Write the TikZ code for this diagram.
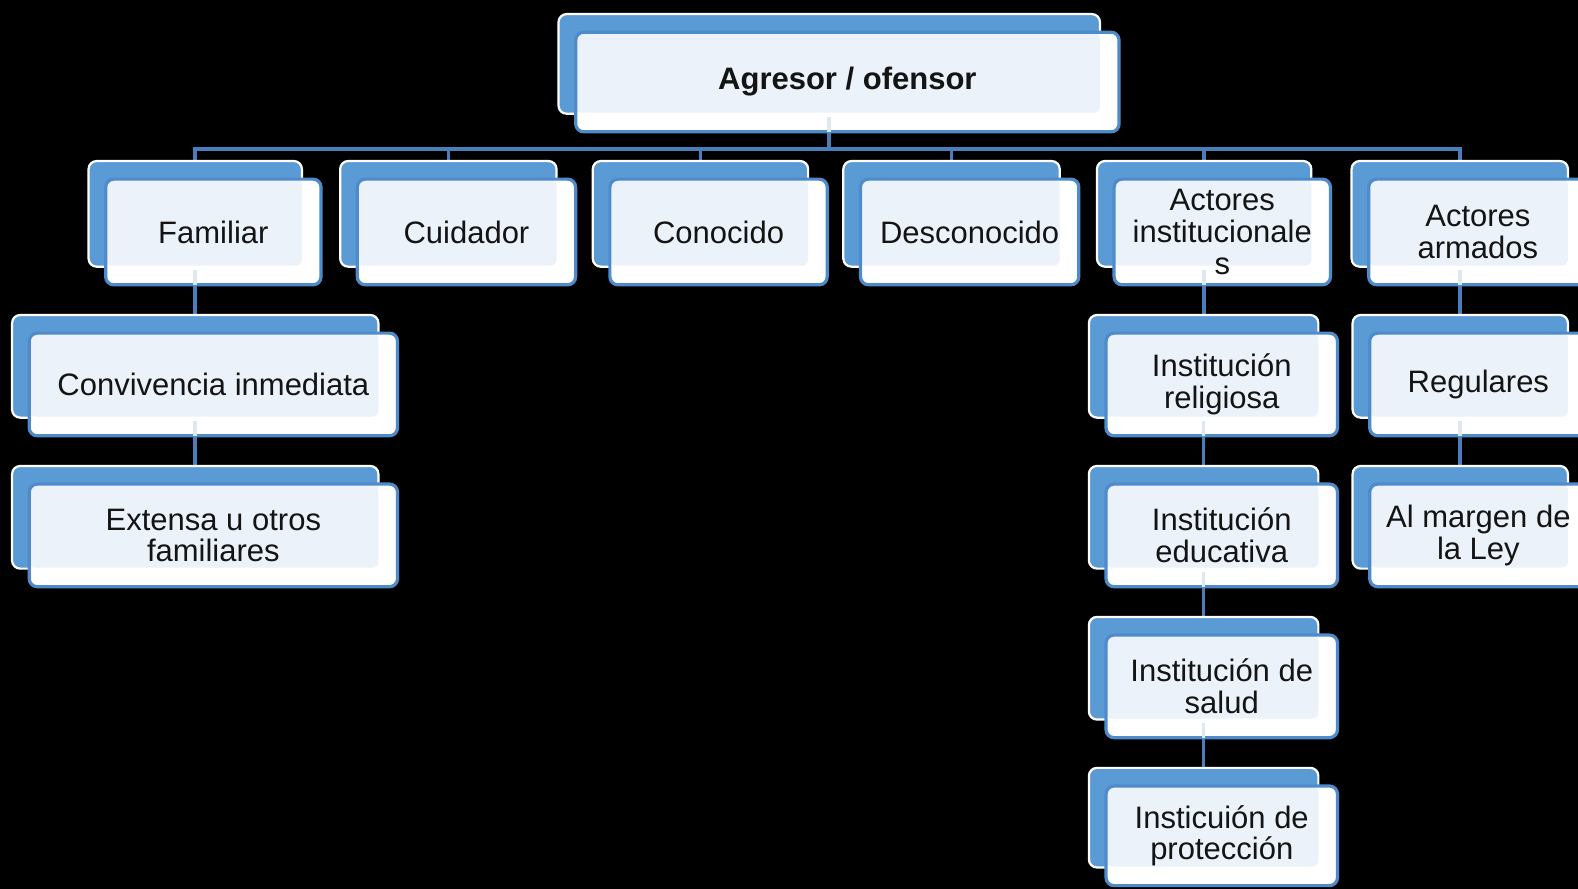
\documentclass[tikz,border=0pt]{standalone}
\usepackage{fontspec}
\setmainfont{Liberation Sans}
\definecolor{bgblue}{HTML}{5B9BD5}
\definecolor{edgeblue}{HTML}{4F8BCB}
\definecolor{lineblue}{HTML}{4A7EBB}
\definecolor{ovl}{HTML}{EBF2FA}
\pgfdeclarelayer{bg}
\pgfsetlayers{bg,main}
\tikzset{
 backbox/.style={draw=white, line width=2.2pt, fill=bgblue, rounded corners=8pt, inner sep=0pt, outer sep=0pt},
 frontbox/.style={draw=edgeblue, line width=3.2pt, fill=white, rounded corners=8pt, inner sep=0pt, outer sep=0pt,
   align=center, text=black!92, font=\fontsize{30.8}{31.5}\selectfont,
   path picture={\fill[ovl,rounded corners=6pt] (path picture bounding box.north west) rectangle ([xshift=-19pt,yshift=19pt]path picture bounding box.south east);}},
 conn/.style={draw=lineblue, line width=3.6pt},
 faint/.style={draw=lineblue!18, line width=3.6pt}
}
\newcommand\orgbox[6]{%
 \node[backbox, minimum width={#4-#2}, minimum height={#5-#3}] (#1b) at ({(#2+#4)/2},{(#3+#5)/2}) {};
 \node[frontbox, minimum width={#4-#2+2}, minimum height={#5-#3}] (#1) at ({(#2+#4)/2+18},{(#3+#5)/2+18}) {#6};
}
\begin{document}
\begin{tikzpicture}[x=1pt,y=-1pt]
\useasboundingbox (0,0) rectangle (1568,883);
\clip (0,0) rectangle (1568,883);
\orgbox{top}{555}{14}{1093}{113}{\textbf{Agresor / ofensor}}
\orgbox{fam}{88}{160}{300}{265}{Familiar}
\orgbox{cui}{338}{160}{553}{265}{Cuidador}
\orgbox{con}{589}{160}{803}{265}{Conocido}
\orgbox{des}{838}{160}{1053}{265}{Desconocido}
\orgbox{ins}{1090}{160}{1303}{265}{Actores\\institucionale\\s}
\orgbox{arm}{1343}{160}{1558}{265}{Actores\\armados}
\orgbox{conv}{12}{313}{376}{415}{Convivencia inmediata}
\orgbox{ext}{12}{463}{376}{565}{Extensa u otros\\familiares}
\orgbox{rel}{1082}{313}{1310}{415}{Institución\\religiosa}
\orgbox{edu}{1082}{463}{1310}{565}{Institución\\educativa}
\orgbox{sal}{1082}{613}{1310}{715}{Institución de\\salud}
\orgbox{pro}{1082}{763}{1310}{862}{Insticuión de\\protección}
\orgbox{reg}{1344}{313}{1558}{415}{Regulares}
\orgbox{mar}{1344}{463}{1558}{565}{Al margen de\\la Ley}
\coordinate (bus) at (0,148);
\begin{pgfonlayer}{bg}
\fill[black] (0,0) rectangle (1568,883);
\foreach \c in {fam,cui,con,des,ins,arm}{
  \draw[conn] (topb.south) -- (topb.south |- bus) -| (\c b.north);
}
\draw[conn] (famb.south) -- (famb.south |- convb.north);
\draw[conn] (convb.south) -- (convb.south |- extb.north);
\draw[conn] (insb.south) -- (insb.south |- relb.north);
\draw[conn] (relb.south) -- (relb.south |- edub.north);
\draw[conn] (edub.south) -- (edub.south |- salb.north);
\draw[conn] (salb.south) -- (salb.south |- prob.north);
\draw[conn] (armb.south) -- (armb.south |- regb.north);
\draw[conn] (regb.south) -- (regb.south |- marb.north);
\end{pgfonlayer}
\foreach \p in {top,fam,conv,ins,rel,edu,sal,arm,reg}{
  \draw[faint] ([yshift=-3pt]\p b.south) -- (\p b.south |- \p.south);
}
\end{tikzpicture}
\end{document}
